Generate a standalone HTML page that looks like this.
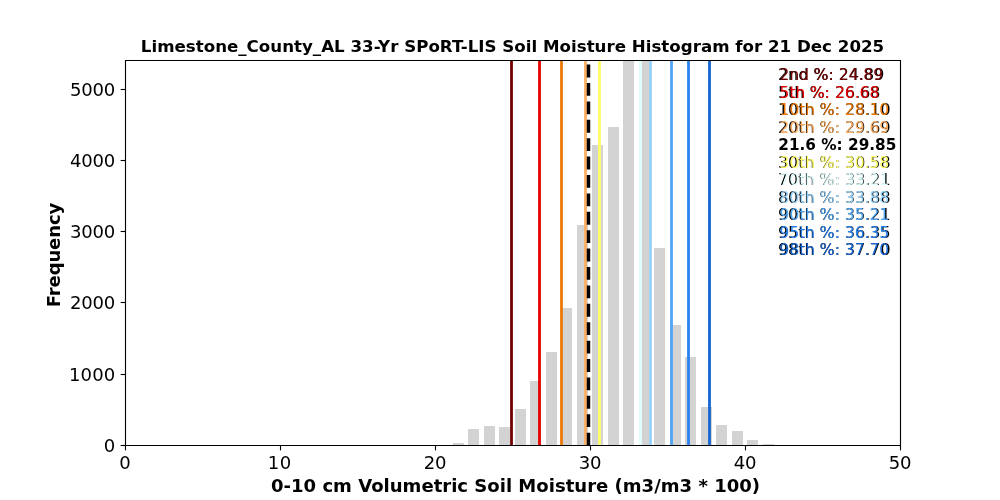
<!DOCTYPE html>
<html lang="en">
<head>
<meta charset="utf-8">
<title>Limestone_County_AL 33-Yr SPoRT-LIS Soil Moisture Histogram for 21 Dec 2025</title>
<style>
html,body{margin:0;padding:0;background:#fff;overflow:hidden}
svg{display:block;will-change:transform}
text{font-family:"DejaVu Sans", "Liberation Sans", sans-serif;fill:#000;white-space:pre}
.tk{font-size:18.056px}
.lb{font-size:18.056px;font-weight:bold}
.tt{font-size:16.667px;font-weight:bold}
.lg{font-size:15.46px}
.lgk{font-size:15.9px}
.lgb{font-size:15.278px;font-weight:bold}
</style>
</head>
<body>
<svg width="1000" height="500" viewBox="0 0 1000 500">
<rect x="0" y="0" width="1000" height="500" fill="#ffffff"/>
<defs><clipPath id="ax"><rect x="125" y="60" width="775" height="385"/></clipPath></defs>
<g clip-path="url(#ax)">
<g fill="#d3d3d3" shape-rendering="crispEdges">
<rect x="453" y="443" width="11" height="2"/>
<rect x="468" y="429" width="11" height="16"/>
<rect x="484" y="426" width="11" height="19"/>
<rect x="499" y="427" width="11" height="18"/>
<rect x="515" y="409" width="11" height="36"/>
<rect x="530" y="381" width="11" height="64"/>
<rect x="546" y="352" width="11" height="93"/>
<rect x="561" y="308" width="11" height="137"/>
<rect x="577" y="225" width="11" height="220"/>
<rect x="592" y="145" width="11" height="300"/>
<rect x="608" y="127" width="11" height="318"/>
<rect x="623" y="17" width="11" height="428"/>
<rect x="639" y="17" width="11" height="428"/>
<rect x="654" y="248" width="11" height="197"/>
<rect x="670" y="325" width="11" height="120"/>
<rect x="685" y="357" width="11" height="88"/>
<rect x="701" y="407" width="11" height="38"/>
<rect x="716" y="425" width="11" height="20"/>
<rect x="732" y="431" width="11" height="14"/>
<rect x="747" y="440" width="11" height="5"/>
<rect x="763" y="444" width="11" height="1"/>
</g>
<rect x="510.11" y="60" width="2.78" height="385" fill="#730000"/>
<rect x="538.11" y="60" width="2.78" height="385" fill="#E60000"/>
<rect x="560.11" y="60" width="2.78" height="385" fill="#EB7805"/>
<rect x="584.11" y="60" width="2.78" height="385" fill="#FDAE61"/>
<rect x="598.11" y="60" width="2.78" height="385" fill="#FFFF66"/>
<rect x="639.11" y="60" width="2.78" height="385" fill="#E1FFFF"/>
<rect x="649.11" y="60" width="2.78" height="385" fill="#96D2FA"/>
<rect x="670.11" y="60" width="2.78" height="385" fill="#50A5F5"/>
<rect x="687.11" y="60" width="2.78" height="385" fill="#2882F0"/>
<rect x="708.11" y="60" width="2.78" height="385" fill="#1464D2"/>
<line x1="588.50" y1="445.50" x2="588.50" y2="60.50" stroke="#000" stroke-width="3.472" stroke-dasharray="12.847 5.556"/>
</g>
<g stroke="#000" stroke-width="1.111" fill="none" stroke-linecap="square">
<path d="M125.5 60.5 H900.5 V445.5 H125.5 Z"/>
</g>
<g stroke="#000" stroke-width="1.111">
<line x1="125.5" y1="445.50" x2="125.5" y2="450.36"/>
<line x1="280.5" y1="445.50" x2="280.5" y2="450.36"/>
<line x1="435.5" y1="445.50" x2="435.5" y2="450.36"/>
<line x1="590.5" y1="445.50" x2="590.5" y2="450.36"/>
<line x1="745.5" y1="445.50" x2="745.5" y2="450.36"/>
<line x1="900.5" y1="445.50" x2="900.5" y2="450.36"/>
<line x1="120.64" y1="445.5" x2="125.50" y2="445.5"/>
<line x1="120.64" y1="374.5" x2="125.50" y2="374.5"/>
<line x1="120.64" y1="302.5" x2="125.50" y2="302.5"/>
<line x1="120.64" y1="231.5" x2="125.50" y2="231.5"/>
<line x1="120.64" y1="160.5" x2="125.50" y2="160.5"/>
<line x1="120.64" y1="89.5" x2="125.50" y2="89.5"/>
</g>
<text class="tk" x="125.00" y="468.70" text-anchor="middle" textLength="11.25" lengthAdjust="spacing">0</text>
<text class="tk" x="279.50" y="468.70" text-anchor="middle" textLength="23.62" lengthAdjust="spacing">10</text>
<text class="tk" x="435.00" y="468.70" text-anchor="middle" textLength="22.75" lengthAdjust="spacing">20</text>
<text class="tk" x="590.00" y="468.70" text-anchor="middle" textLength="22.75" lengthAdjust="spacing">30</text>
<text class="tk" x="745.00" y="468.70" text-anchor="middle" textLength="22.75" lengthAdjust="spacing">40</text>
<text class="tk" x="900.00" y="468.70" text-anchor="middle" textLength="22.75" lengthAdjust="spacing">50</text>
<text class="tk" x="115.28" y="451.85" text-anchor="end" textLength="11.25" lengthAdjust="spacing">0</text>
<text class="tk" x="115.28" y="380.55" text-anchor="end" textLength="46.25" lengthAdjust="spacing">1000</text>
<text class="tk" x="115.28" y="309.26" text-anchor="end" textLength="45.25" lengthAdjust="spacing">2000</text>
<text class="tk" x="115.28" y="237.96" text-anchor="end" textLength="45.25" lengthAdjust="spacing">3000</text>
<text class="tk" x="115.28" y="166.66" text-anchor="end" textLength="45.25" lengthAdjust="spacing">4000</text>
<text class="tk" x="115.28" y="96.37" text-anchor="end" textLength="45.25" lengthAdjust="spacing">5000</text>
<text class="tt" x="512.5" y="51.67" text-anchor="middle" textLength="743.3" lengthAdjust="spacing">Limestone_County_AL 33-Yr SPoRT-LIS Soil Moisture Histogram for 21 Dec 2025</text>
<text class="lb" x="515.5" y="492.3" text-anchor="middle" textLength="489.1" lengthAdjust="spacing">0-10 cm Volumetric Soil Moisture (m3/m3 * 100)</text>
<text class="lb" transform="translate(59.5 255.0) rotate(-90)" text-anchor="middle" textLength="104.64" lengthAdjust="spacing">Frequency</text>
<text class="lgk" x="778.00" y="80.00">2nd %: 24.89</text>
<text class="lg" x="779.60" y="80.00" style="fill:#730000">2nd %: 24.89</text>
<text class="lgk" x="778.00" y="97.52">5th %: 26.68</text>
<text class="lg" x="779.60" y="97.52" style="fill:#E60000">5th %: 26.68</text>
<text class="lgk" x="778.00" y="115.03">10th %: 28.10</text>
<text class="lg" x="779.60" y="115.03" style="fill:#EB7805">10th %: 28.10</text>
<text class="lgk" x="778.00" y="132.55">20th %: 29.69</text>
<text class="lg" x="779.60" y="132.55" style="fill:#FDAE61">20th %: 29.69</text>
<text class="lgb" x="778.32" y="150.07">21.6 %: 29.85</text>
<text class="lgk" x="778.00" y="167.59">30th %: 30.58</text>
<text class="lg" x="779.60" y="167.59" style="fill:#FFFF66">30th %: 30.58</text>
<text class="lgk" x="778.00" y="185.10">70th %: 33.21</text>
<text class="lg" x="779.60" y="185.10" style="fill:#E1FFFF">70th %: 33.21</text>
<text class="lgk" x="778.00" y="202.62">80th %: 33.88</text>
<text class="lg" x="779.60" y="202.62" style="fill:#96D2FA">80th %: 33.88</text>
<text class="lgk" x="778.00" y="220.14">90th %: 35.21</text>
<text class="lg" x="779.60" y="220.14" style="fill:#50A5F5">90th %: 35.21</text>
<text class="lgk" x="778.00" y="237.66">95th %: 36.35</text>
<text class="lg" x="779.60" y="237.66" style="fill:#2882F0">95th %: 36.35</text>
<text class="lgk" x="778.00" y="255.17">98th %: 37.70</text>
<text class="lg" x="779.60" y="255.17" style="fill:#1464D2">98th %: 37.70</text>
</svg>
</body>
</html>
